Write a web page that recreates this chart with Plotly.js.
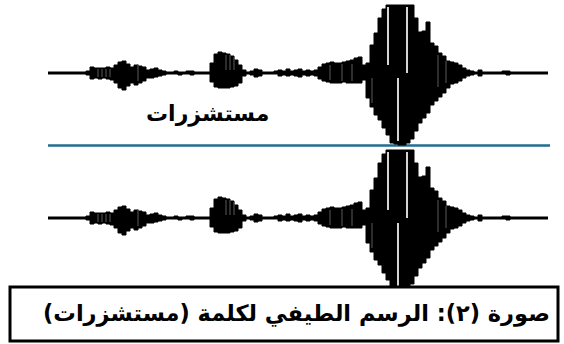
<!DOCTYPE html>
<html>
<head>
<meta charset="utf-8">
<script src="https://cdn.plot.ly/plotly-3.0.1.min.js"></script>
<style>html,body{margin:0;padding:0;background:#fff;}#chart{width:564px;height:344px;}</style>
</head>
<body>
<div id="chart"></div>
<script>
// Sample positions (time axis) of the waveform envelope
const t = [48,52,56,60,64,68,72,76,80,84,88,92,96,100,104,108,112,116,120,124,128,132,136,140,144,148,152,156,160,164,168,172,176,180,184,188,192,196,200,204,208,212,216,220,224,228,232,236,240,244,248,252,256,260,264,268,272,276,280,284,288,292,296,300,304,308,312,316,320,324,328,332,336,340,344,348,352,356,360,364,368,372,376,380,384,388,392,396,400,404,408,412,416,420,424,428,432,436,440,444,448,452,456,460,464,468,472,476,480,484,488,492,496,500,504,508,512,516,520,524,528,532,536,540,544,548];
// Positive (upper) envelope amplitude
const ampUp = [1,1,1,1,1,1,1,1,1,1,2,6,5,5,5,6,5,8,11,12,9,6,8,7,6,3,4,5,3,2,1,1,2,1,1,2,2,1,1,1,1,10,19,21,20,19,17,13,8,3,1,2,4,3,1,1,1,2,3,2,4,2,3,4,2,3,2,3,6,9,10,11,10,10,11,12,13,15,16,8,10,28,40,55,64,68,68,68,68,68,68,68,55,41,42,51,30,27,20,17,12,11,10,8,5,3,2,1,3,1,1,1,1,1,2,2,1,1,1,1,1,1,1,1,1,1];
// Negative (lower) envelope amplitude
const ampDown = [1,1,1,1,1,1,1,1,1,1,2,6,5,6,5,6,7,10,15,17,13,10,12,10,8,5,5,4,3,2,1,1,1,2,1,1,2,1,1,1,1,9,14,15,15,15,14,13,10,3,1,2,4,3,1,1,1,1,3,2,3,2,3,4,2,3,2,3,6,8,9,10,10,10,9,10,10,10,10,7,25,34,42,47,55,62,70,71,72,72,70,66,58,50,45,40,32,28,24,20,15,11,10,8,5,3,2,1,3,1,1,1,1,1,1,2,1,1,1,1,1,1,1,1,1,1];
// Light striations inside the bursts
const stripeT  = [388, 407, 398, 372, 330, 342, 352, 226, 230, 234, 98, 102, 106, 110, 138, 438, 446];
const stripeHi = [66, 66, -5, -5, 8, 9, 9, 18, 18, 16, 4, 4, 4, 4, 9, 18, 12];
const stripeLo = [8, 0, -68, -30, -7, -8, -8, 3, 3, 3, -4, -4, -4, -4, -8, -14, -10];
const stripeMain = [true, true, true, false, false, false, false, false, false, false, false, false, false, false, false, false, false];

const wordLabel = 'مستشزرات';
const captionText = 'صورة (٢): الرسم الطيفي لكلمة (مستشزرات)';

const W = 564, H = 344;
const py = p => 1 - p / H; // pixel row -> paper fraction

function waveTraces(yax) {
  const traces = [];
  traces.push({
    type: 'scatter', mode: 'lines', x: t, y: ampDown.map(v => -v),
    line: {color: '#000', width: 1, shape: 'hvh'}, yaxis: yax, xaxis: 'x', hoverinfo: 'skip'
  });
  traces.push({
    type: 'scatter', mode: 'lines', x: t, y: ampUp, fill: 'tonexty', fillcolor: '#000',
    line: {color: '#000', width: 1, shape: 'hvh'}, yaxis: yax, xaxis: 'x', hoverinfo: 'skip'
  });
  const groups = [[true, '#d4d4d4', 2], [false, '#5a5a5a', 1]];
  groups.forEach(([main, col, w]) => {
    const xs = [], ys = [];
    stripeT.forEach((s, i) => {
      if (stripeMain[i] === main) { xs.push(s, s, null); ys.push(stripeHi[i], stripeLo[i], null); }
    });
    traces.push({type: 'scatter', mode: 'lines', x: xs, y: ys, line: {color: col, width: w},
      yaxis: yax, xaxis: 'x', hoverinfo: 'skip', connectgaps: false});
  });
  return traces;
}

const data = waveTraces('y').concat(waveTraces('y2'));

const fontFam = '"DejaVu Sans", "Noto Sans", sans-serif';
const layout = {
  width: W, height: H, margin: {l: 0, r: 0, t: 0, b: 0},
  paper_bgcolor: '#fff', plot_bgcolor: 'rgba(0,0,0,0)',
  showlegend: false,
  xaxis: {range: [0, W], visible: false, fixedrange: true},
  yaxis: {domain: [0, 1], range: [73 - H, 73], visible: false},
  yaxis2: {domain: [0, 1], range: [218 - H, 218], visible: false, overlaying: 'y'},
  shapes: [
    {type: 'line', xref: 'x', yref: 'paper', x0: 48, x1: 550, y0: py(145.5), y1: py(145.5),
     line: {color: '#236c90', width: 2.5}, layer: 'below'},
    {type: 'rect', xref: 'x', yref: 'paper', x0: 10, x1: 558, y0: py(287), y1: py(341),
     line: {color: '#000', width: 3}, fillcolor: '#fff', layer: 'above'}
  ],
  annotations: [
    {text: '<b>' + wordLabel + '</b>', xref: 'x', yref: 'paper', x: 207, y: py(114),
     xanchor: 'center', yanchor: 'middle', showarrow: false,
     font: {family: fontFam, size: 22, color: '#000'}},
    {text: '<b>' + captionText + '</b>', xref: 'x', yref: 'paper', x: 552, y: py(313),
     xanchor: 'right', yanchor: 'middle', showarrow: false,
     font: {family: fontFam, size: 22.5, color: '#000'}}
  ]
};

Plotly.newPlot('chart', data, layout, {staticPlot: true, displayModeBar: false});
</script>
</body>
</html>
